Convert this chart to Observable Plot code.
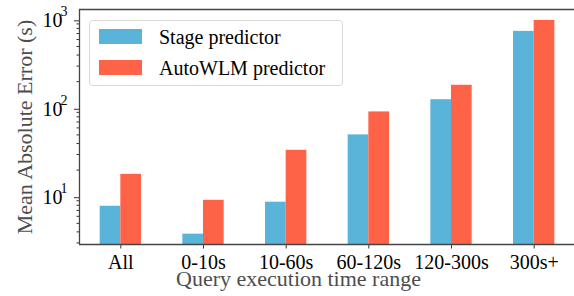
<!DOCTYPE html>
<html><head><meta charset="utf-8">
<script src="https://cdn.jsdelivr.net/npm/d3@7"></script>
<script src="https://cdn.jsdelivr.net/npm/@observablehq/plot@0.6"></script>
<style>
body{margin:0;background:#fff;overflow:hidden}
#wrap{position:relative;width:574px;height:296px;font-family:"Liberation Serif","Times New Roman",serif;overflow:hidden}
#wrap svg{position:absolute;left:0;top:0}
.lbl{position:absolute;font-size:22px;color:#4d4d4d;white-space:nowrap;line-height:1}
#xlbl{line-height:12px}
#legend{position:absolute;left:89px;top:20px;width:252px;height:64px;border:1px solid #d9d9d9;border-radius:4px;background:rgba(255,255,255,0.8)}
.item{position:absolute;left:9px;height:15px;display:flex;align-items:center}
.sw{width:43px;height:15px;flex:none}
.txt{margin-left:17px;font-size:20px;line-height:1;color:#000;white-space:nowrap}
</style></head><body><div id="wrap"></div>
<script>
const categories = ["All", "0-10s", "10-60s", "60-120s", "120-300s", "300s+"];
const stageValues = [7.8, 3.77, 8.67, 50, 125, 741];
const autoValues = [17.9, 9.1, 33.5, 91, 182, 986];
const seriesNames = ["Stage predictor", "AutoWLM predictor"];
const seriesColors = ["#5ab4da", "#ff6347"];
const yMajorTicks = [10, 100, 1000];
const yExponents = ["1", "2", "3"];
const xLabel = "Query execution time range";
const yLabel = "Mean Absolute Error (s)";
const yDomain = [2.88, 1310];

const rows = categories.flatMap((c, i) => [
  {i, cat: c, series: seriesNames[0], value: stageValues[i], off: -0.25},
  {i, cat: c, series: seriesNames[1], value: autoValues[i], off: 0}
]);
const minorTicks = [];
for (let e = 0; e <= 3; e++) for (let m = 2; m <= 9; m++) {
  const v = m * 10 ** e;
  if (v >= yDomain[0] && v <= yDomain[1]) minorTicks.push(v);
}

const chart = Plot.plot({
  width: 574, height: 296,
  marginTop: 9, marginBottom: 52, marginLeft: 79, marginRight: 0,
  style: {fontFamily: '"Liberation Serif","Times New Roman",serif', fontSize: "20px", color: "#000", background: "transparent", overflow: "visible"},
  x: {type: "linear", domain: [-0.5, 5.5], range: [79, 575], axis: null},
  y: {type: "log", domain: yDomain, axis: null},
  color: {domain: seriesNames, range: seriesColors},
  marks: [
    Plot.rectY(rows, {x1: d => d.i + d.off, x2: d => d.i + d.off + 0.25, y1: () => yDomain[0], y2: "value", fill: "series", inset: 0, clip: true}),
    Plot.axisY(minorTicks, {label: null, tickSize: 2.5, tickFormat: () => "", stroke: "#333"}),
    Plot.axisY(yMajorTicks, {label: null, tickSize: 5, tickPadding: 12, tickFormat: () => "10", stroke: "#333", fontSize: 20, dy: 1}),
    Plot.axisY(yMajorTicks, {label: null, tickSize: 0, tickPadding: 12, tickFormat: d => yExponents[yMajorTicks.indexOf(d)], fontSize: 14, dy: -8}),
    Plot.axisX(d3.range(categories.length), {label: null, tickSize: 4.5, tickPadding: 6, tickFormat: i => categories[i], stroke: "#333", fontSize: 20}),
    Plot.ruleX([-0.5], {stroke: "#444", strokeWidth: 1.3}),
    Plot.ruleY(yDomain, {stroke: "#444", strokeWidth: 1.3})
  ]
});
const wrap = document.getElementById("wrap");
wrap.appendChild(chart);

const xl = document.createElement("div");
xl.className = "lbl"; xl.id = "xlbl"; xl.textContent = xLabel;
wrap.appendChild(xl);
xl.style.left = (298.5 - xl.offsetWidth / 2) + "px";
xl.style.top = "273px";

const yl = document.createElement("div");
yl.className = "lbl"; yl.textContent = yLabel;
wrap.appendChild(yl);
yl.style.left = (25 - yl.offsetWidth / 2) + "px";
yl.style.top = (126.5 - yl.offsetHeight / 2) + "px";
yl.style.transform = "rotate(-90deg)";

const lg = document.createElement("div");
lg.id = "legend";
seriesNames.forEach((n, k) => {
  const it = document.createElement("div");
  it.className = "item";
  it.style.top = (8 + k * 31) + "px";
  it.innerHTML = `<div class="sw" style="background:${seriesColors[k]}"></div><div class="txt">${n}</div>`;
  lg.appendChild(it);
});
wrap.appendChild(lg);
</script></body></html>
